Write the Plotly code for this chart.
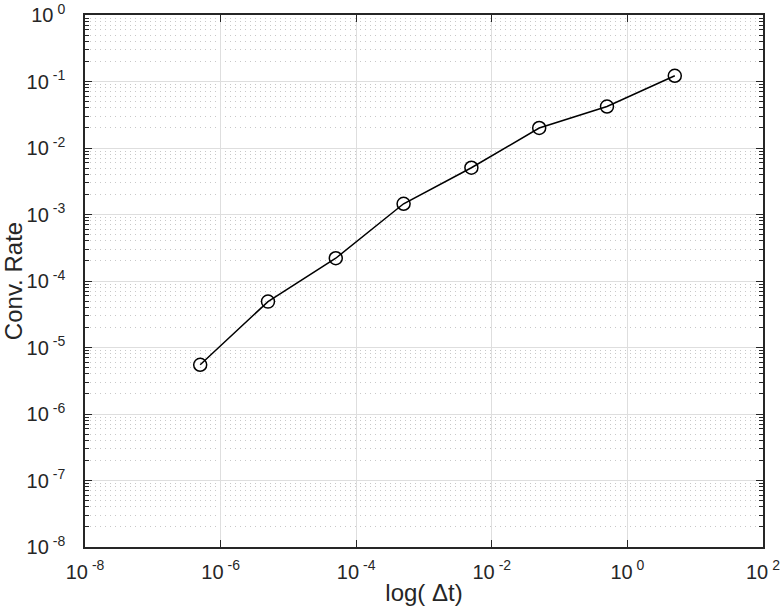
import plotly.graph_objects as go

# Data
dt = [5e-7, 5e-6, 5e-5, 5e-4, 5e-3, 5e-2, 5e-1, 5e0]
conv_rate = [5.5e-6, 4.9e-5, 2.2e-4, 1.45e-3, 5.05e-3, 2.0e-2, 4.2e-2, 0.122]

x_exponents = [-8, -6, -4, -2, 0, 2]
y_exponents = [-8, -7, -6, -5, -4, -3, -2, -1, 0]
minor_mantissas = [2, 3, 4, 5, 6, 7, 8, 9]

x_title = "log( \u0394t)"
y_title = "Conv. Rate"

FONT = "Liberation Sans, Arial, Helvetica, sans-serif"
AX = "#262626"


def power_label(e):
    return "10\u2009<sup>%d</sup>" % e


x_tickvals = [10.0 ** e for e in x_exponents]
x_ticktext = [power_label(e) for e in x_exponents]
y_tickvals = [10.0 ** e for e in y_exponents]
y_ticktext = [power_label(e) for e in y_exponents]
y_minor = [m * 10.0 ** e for e in y_exponents[:-1] for m in minor_mantissas]

fig = go.Figure()
fig.add_trace(go.Scatter(
    x=dt, y=conv_rate, mode="lines+markers",
    line=dict(color="black", width=1.5),
    marker=dict(symbol="circle-open", size=13, color="black",
                line=dict(color="black", width=1.5)),
    showlegend=False,
))

fig.update_xaxes(
    type="log", range=[-8, 2], automargin=False,
    tickmode="array", tickvals=x_tickvals, ticktext=x_ticktext,
    ticks="inside", ticklen=7, tickwidth=1.3, tickcolor=AX,
    showline=True, linecolor=AX, linewidth=1.5, mirror="ticks",
    showgrid=True, gridcolor="#dedede", gridwidth=1,
    zeroline=False, ticklabeloverflow="allow",
    tickfont=dict(family=FONT, size=20, color=AX),
    ticklabelstandoff=6,
    title=dict(text=x_title, font=dict(family=FONT, size=24, color=AX), standoff=2),
)
fig.update_yaxes(
    type="log", range=[-8, 0], automargin=False,
    tickmode="array", tickvals=y_tickvals, ticktext=y_ticktext,
    ticks="inside", ticklen=7, tickwidth=1.3, tickcolor=AX,
    showline=True, linecolor=AX, linewidth=1.5, mirror="ticks",
    showgrid=True, gridcolor="#dedede", gridwidth=1,
    zeroline=False, ticklabeloverflow="allow",
    tickfont=dict(family=FONT, size=20, color=AX),
    ticklabelstandoff=14,
    minor=dict(tickmode="array", tickvals=y_minor, ticks="inside", ticklen=4,
               tickwidth=1.2, tickcolor=AX,
               showgrid=True, gridcolor="#c8c8c8", gridwidth=1, griddash="1px,4px"),
    title=dict(text=y_title, font=dict(family=FONT, size=24, color=AX), standoff=6),
)

fig.update_layout(
    width=782, height=613,
    margin=dict(l=85, r=19, t=15, b=66),
    paper_bgcolor="white", plot_bgcolor="white",
    font=dict(family=FONT, color=AX),
)

fig.write_html("out.html")
